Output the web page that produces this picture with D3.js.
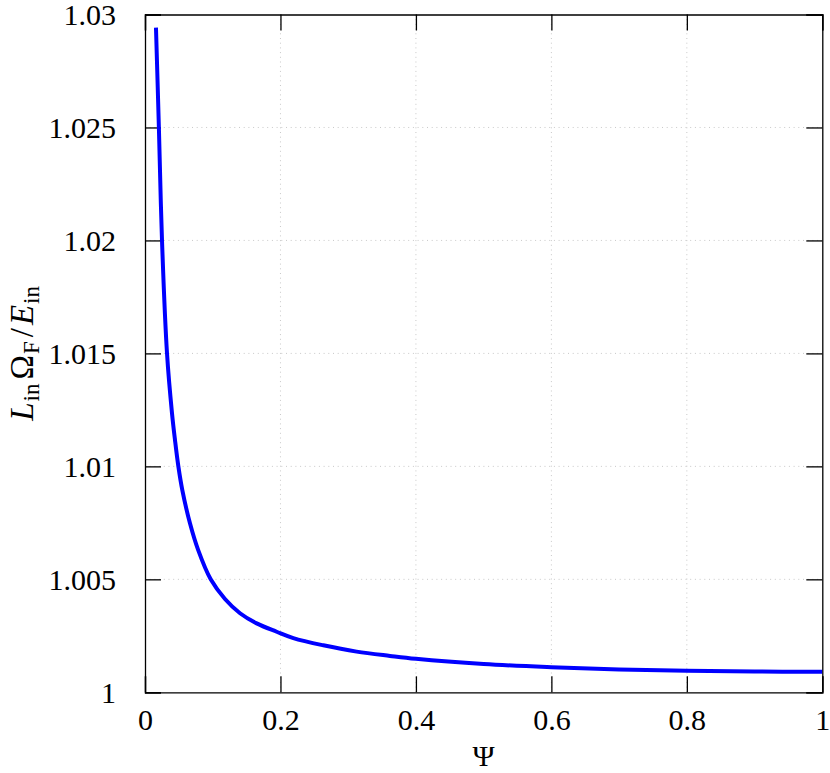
<!DOCTYPE html>
<html>
<head>
<meta charset="utf-8">
<script src="https://cdn.jsdelivr.net/npm/d3@7"></script>
<style>
  body { margin: 0; background: #fff; }
  text { font-family: "Liberation Serif", "DejaVu Serif", serif; fill: #000; }
</style>
</head>
<body>
<div class="canvas"></div>
<script>
// values
const psi = [0.0162, 0.0205, 0.0251, 0.0325, 0.0399, 0.0443, 0.0492, 0.0551, 0.0664, 0.0787,
  0.097, 0.1181, 0.1403, 0.1649, 0.1944, 0.219, 0.2633, 0.3125, 0.3617, 0.4, 0.5, 0.6, 0.7, 0.8, 0.9, 1.0]
const ratio = [1.02942, 1.025, 1.02, 1.015, 1.01234, 1.01116, 1.01001, 1.00895, 1.00748, 1.00628,
  1.005, 1.00413, 1.0035, 1.00305, 1.00268, 1.0024, 1.00208, 1.0018, 1.00161, 1.00148, 1.00125, 1.00111, 1.00101, 1.00095, 1.00092, 1.00091]

const xTicks = [0, 0.2, 0.4, 0.6, 0.8, 1]
const xTickLabels = ['0', '0.2', '0.4', '0.6', '0.8', '1']
const yTicks = [1, 1.005, 1.01, 1.015, 1.02, 1.025, 1.03]
const yTickLabels = ['1', '1.005', '1.01', '1.015', '1.02', '1.025', '1.03']

const margin = {top: 14.5, right: 7.7, bottom: 80.7, left: 145}
const width = 830, height = 773
const graphWidth = width - margin.left - margin.right
const graphHeight = height - margin.top - margin.bottom
const tickLen = 16

const svg = d3.select('.canvas')
  .append('svg')
  .attr('width', width)
  .attr('height', height)

const graph = svg.append('g')
  .attr('transform', `translate(${margin.left}, ${margin.top})`)

const x = d3.scaleLinear().domain([0, 1]).range([0, graphWidth])
const y = d3.scaleLinear().domain([1, 1.03]).range([graphHeight, 0])

// dotted grid
graph.append('g').selectAll('line')
  .data(xTicks.slice(1, -1))
  .enter().append('line')
  .attr('x1', d => x(d)).attr('x2', d => x(d))
  .attr('y1', 0).attr('y2', graphHeight)
  .attr('stroke', '#c8c8c8').attr('stroke-width', 1)
  .attr('stroke-dasharray', '1,3.7')

graph.append('g').selectAll('line')
  .data(yTicks.slice(1, -1))
  .enter().append('line')
  .attr('y1', d => y(d)).attr('y2', d => y(d))
  .attr('x1', 0).attr('x2', graphWidth)
  .attr('stroke', '#c8c8c8').attr('stroke-width', 1)
  .attr('stroke-dasharray', '1,3.7')

// axes with inward ticks on all sides
const xAxisBottom = d3.axisBottom(x).tickValues(xTicks).tickSize(-tickLen).tickFormat((d, i) => xTickLabels[i])
const xAxisTop = d3.axisTop(x).tickValues(xTicks).tickSize(-tickLen).tickFormat('')
const yAxisLeft = d3.axisLeft(y).tickValues(yTicks).tickSize(-tickLen).tickFormat((d, i) => yTickLabels[i])
const yAxisRight = d3.axisRight(y).tickValues(yTicks).tickSize(-tickLen).tickFormat('')

const axes = [
  graph.append('g').attr('transform', `translate(0, ${graphHeight})`).call(xAxisBottom),
  graph.append('g').call(xAxisTop),
  graph.append('g').call(yAxisLeft),
  graph.append('g').attr('transform', `translate(${graphWidth}, 0)`).call(yAxisRight)
]
axes.forEach(a => {
  a.select('.domain').attr('stroke', '#000').attr('stroke-width', 1.3)
  a.selectAll('.tick line').attr('stroke', '#000').attr('stroke-width', 1.3)
  a.selectAll('.tick text')
    .style('font-family', '"Liberation Serif", serif')
    .attr('font-size', 30)
    .attr('fill', '#000')
})
axes[0].selectAll('.tick text').attr('y', 0).attr('dy', 38)
axes[2].selectAll('.tick text').attr('x', -29).attr('dy', 10)

// curve
const data = psi.map((p, i) => [p, ratio[i]])
graph.append('clipPath').attr('id', 'clip')
  .append('rect').attr('width', graphWidth).attr('height', graphHeight)

graph.append('path')
  .datum(data)
  .attr('clip-path', 'url(#clip)')
  .attr('fill', 'none')
  .attr('stroke', '#0000ff')
  .attr('stroke-width', 4)
  .attr('stroke-linejoin', 'round')
  .attr('d', d3.line().x(d => x(d[0])).y(d => y(d[1])).curve(d3.curveCatmullRom.alpha(0.5)))

// axis labels
svg.append('text')
  .attr('x', margin.left + graphWidth / 2)
  .attr('y', 766)
  .attr('text-anchor', 'middle')
  .attr('font-size', 30)
  .text('Ψ')

const ylab = svg.append('text')
  .attr('transform', `translate(33, ${margin.top + graphHeight / 2}) rotate(-90)`)
  .attr('text-anchor', 'middle')
  .attr('font-size', 33)
ylab.append('tspan').attr('font-style', 'italic').text('L')
ylab.append('tspan').attr('font-size', 23).attr('dy', 6).attr('dx', 1).text('in')
ylab.append('tspan').attr('dy', -6).attr('dx', 4).text('Ω')
ylab.append('tspan').attr('font-size', 23).attr('dy', 6).attr('dx', 1).text('F')
ylab.append('tspan').attr('dy', -6).attr('dx', 4).text('/')
ylab.append('tspan').attr('font-style', 'italic').attr('dx', 3).text('E')
ylab.append('tspan').attr('font-size', 23).attr('dy', 6).attr('dx', 1).text('in')
</script>
</body>
</html>
